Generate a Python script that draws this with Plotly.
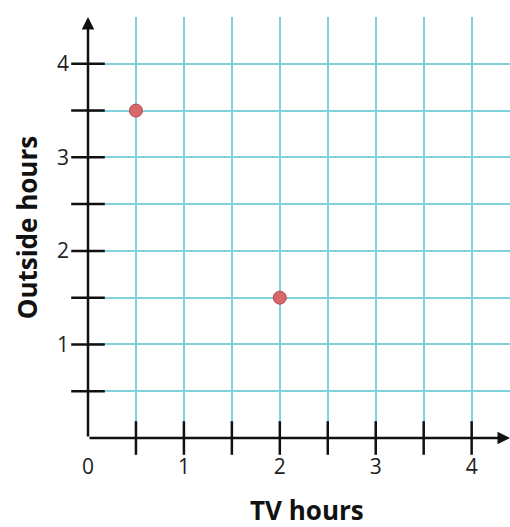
import plotly.graph_objects as go

# data
tv_hours = [0.5, 2.0]
outside_hours = [3.5, 1.5]
x_tick_vals = [0, 1, 2, 3, 4]
y_tick_vals = [1, 2, 3, 4]
x_minor_ticks = [0.5, 1, 1.5, 2, 2.5, 3, 3.5, 4]
y_minor_ticks = [0.5, 1, 1.5, 2, 2.5, 3, 3.5, 4]
x_title = "TV hours"
y_title = "Outside hours"

X_MAX = 4.4
Y_MAX = 4.5
GRID = "#80d2dc"
AXC = "#111111"

fig = go.Figure()

# crossing tick marks
fig.add_trace(go.Scatter(
    x=x_minor_ticks, y=[0] * len(x_minor_ticks), mode="markers",
    marker=dict(symbol="line-ns-open", size=24, color=AXC, line=dict(color=AXC, width=2.5)),
    cliponaxis=False, hoverinfo="skip", showlegend=False))
fig.add_trace(go.Scatter(
    x=[0] * len(y_minor_ticks), y=y_minor_ticks, mode="markers",
    marker=dict(symbol="line-ew-open", size=24, color=AXC, line=dict(color=AXC, width=2.5)),
    cliponaxis=False, hoverinfo="skip", showlegend=False))

# points
fig.add_trace(go.Scatter(
    x=tv_hours, y=outside_hours, mode="markers",
    marker=dict(size=13, color="#d9686c", line=dict(color="#b04a50", width=1)),
    cliponaxis=False, showlegend=False))

# axes with arrows
fig.add_annotation(x=X_MAX, y=0, ax=0, ay=0, xref="x", yref="y", axref="x", ayref="y",
                   text="", showarrow=True, arrowhead=2, arrowsize=1, arrowwidth=2.5,
                   arrowcolor=AXC)
fig.add_annotation(x=0, y=Y_MAX, ax=0, ay=0, xref="x", yref="y", axref="x", ayref="y",
                   text="", showarrow=True, arrowhead=2, arrowsize=1, arrowwidth=2.5,
                   arrowcolor=AXC)

# axis titles
fig.add_annotation(x=0.52, y=-0.171, xref="paper", yref="paper", text="<b>" + x_title + "</b>",
                   showarrow=False, font=dict(family="Open Sans", size=26, color="#111"),
                   xanchor="center", yanchor="middle")
fig.add_annotation(x=-0.145, y=0.5, xref="paper", yref="paper", text="<b>" + y_title + "</b>",
                   showarrow=False, textangle=-90,
                   font=dict(family="Open Sans", size=26, color="#111"),
                   xanchor="center", yanchor="middle")

fig.update_layout(
    width=510, height=527,
    margin=dict(l=88, r=0, t=17, b=89, autoexpand=False),
    paper_bgcolor="white", plot_bgcolor="white",
    font=dict(family="Open Sans", size=21, color="#222"),
    xaxis=dict(range=[0, X_MAX], tickvals=x_tick_vals, ticks="", showline=False,
               zeroline=False, showgrid=True, gridcolor=GRID, gridwidth=2,
               ticklabelstandoff=14, automargin=False,
               minor=dict(tickvals=x_minor_ticks, showgrid=True, gridcolor=GRID, gridwidth=2)),
    yaxis=dict(range=[0, Y_MAX], tickvals=y_tick_vals, ticks="", showline=False,
               zeroline=False, showgrid=True, gridcolor=GRID, gridwidth=2,
               ticklabelstandoff=18, automargin=False,
               minor=dict(tickvals=y_minor_ticks + [4.5], showgrid=True, gridcolor=GRID, gridwidth=2)),
)

fig.write_html("out.html", config={"displayModeBar": False},
               post_script="document.body.style.margin='0';document.body.style.overflow='hidden';")
